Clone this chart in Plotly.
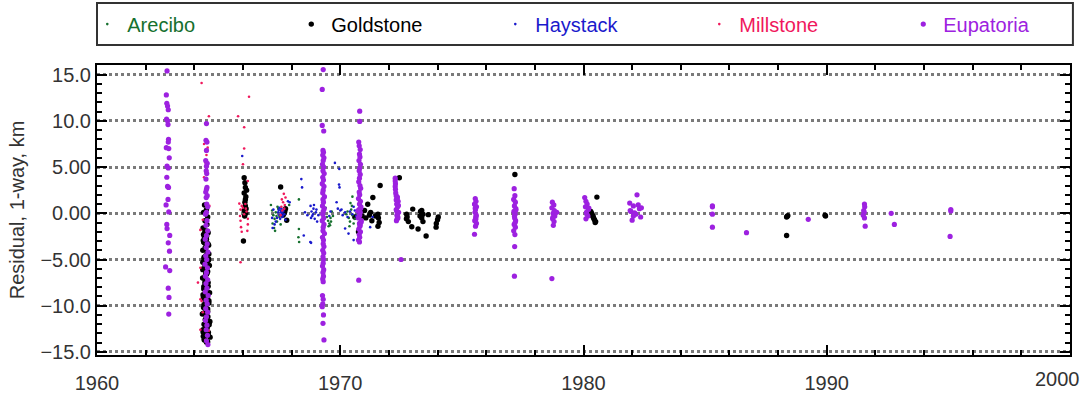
import plotly.graph_objects as go

# ---------------- data (year, residual km) ----------------
ARECIBO_X = [1967.15, 1967.2, 1967.25, 1967.3, 1967.22, 1967.28, 1967.32, 1967.4, 1967.45, 1967.5,
             1967.55, 1967.35, 1967.6, 1967.9, 1968.3, 1968.3, 1968.28, 1968.31, 1969.45, 1969.5,
             1969.55, 1969.6, 1969.62, 1969.65, 1969.7, 1969.4, 1969.52, 1970.3, 1970.35, 1970.4,
             1970.45, 1970.5, 1970.55, 1970.5, 1970.42, 1970.6, 1970.38, 1970.25, 1970.48, 1969.58,
             1967.38, 1967.42]
ARECIBO_Y = [0.9, 0.3, -0.2, -0.6, -1.1, -1.6, -1.9, -0.9, 0.5, -0.4,
             -1.2, 0.1, 0.2, 0.9, 1.5, -1.7, -2.6, -3.1, -0.4, -0.8,
             -1.1, -0.5, -0.9, 0.2, -0.3, 0.6, -1.4, 0.2, -0.5, -0.9,
             0.4, -0.2, -1.1, 1.8, 1.1, -0.6, -1.4, -0.1, 0.8, -1.3,
             -0.3, 0.7]

GOLDSTONE_X = [1964.42, 1964.5, 1964.38, 1964.55, 1964.44, 1964.52, 1964.36, 1964.48, 1964.57, 1964.41,
               1964.5, 1964.39, 1964.56, 1964.45, 1964.35, 1964.53, 1964.47, 1964.4, 1964.58, 1964.43,
               1964.51, 1964.37, 1964.55, 1964.46, 1964.34, 1964.52, 1964.44, 1964.57, 1964.39, 1964.49,
               1964.36, 1964.54, 1964.42, 1964.6, 1964.47, 1964.38, 1964.55, 1964.33, 1964.5, 1964.45,
               1964.62, 1964.4, 1964.53, 1964.36, 1964.58, 1964.46, 1964.65, 1964.41, 1964.55, 1964.38,
               1964.49, 1964.6, 1964.35, 1964.52, 1964.44, 1964.63, 1964.4, 1964.56, 1964.47, 1964.37,
               1964.43, 1964.51, 1964.37, 1964.59, 1964.46, 1964.54, 1964.4, 1964.48, 1964.62, 1964.35,
               1964.5, 1964.44, 1964.57, 1964.39, 1964.53, 1964.47, 1964.6, 1964.42, 1964.55, 1964.38,
               1964.49, 1964.64, 1964.45, 1964.52, 1964.36, 1964.58, 1964.41, 1964.5, 1964.61, 1964.44,
               1964.37, 1964.54, 1964.47, 1964.59, 1964.4, 1964.52,
               1966.05, 1966.08, 1966.1, 1966.05, 1966.12, 1966.08, 1966.1, 1966.05, 1966.12, 1966.02,
               1966.15, 1966.1, 1966.07, 1966.13,
               1967.55, 1967.75, 1967.8, 1967.7, 1967.65, 1967.72,
               1970.6, 1970.75, 1970.8, 1970.9, 1971.0, 1971.05, 1971.13, 1971.34, 1971.2, 1971.25,
               1971.3, 1971.55, 1971.57, 1971.6, 1971.55, 1971.64, 1971.45,
               1972.43, 1972.73, 1972.75, 1972.72, 1972.98, 1972.94, 1973.2, 1973.3, 1973.35, 1973.4,
               1973.35, 1973.4, 1973.62, 1973.53, 1974.03, 1974.0, 1973.95, 1973.94, 1973.28, 1972.8,
               1977.18,
               1980.3, 1980.35, 1980.4, 1980.45, 1980.5, 1980.38, 1980.42, 1980.48, 1980.55, 1980.33,
               1988.38, 1988.4, 1988.35, 1988.35, 1989.93, 1989.95]
GOLDSTONE_Y = [0.9, 0.4, 0.1, -0.4, -0.8, -1.2, -1.6, -1.9, -2.1, -2.5,
               -2.8, -3.1, -3.3, -3.7, -4.0, -4.2, -4.6, -4.9, -5.1, -5.5,
               -5.8, -6.0, -6.3, -6.7, -7.0, -7.2, -7.6, -7.9, -8.2, -8.4,
               -8.8, -9.1, -9.3, -9.7, -10.0, -10.2, -10.6, -10.9, -11.1, -11.5,
               -11.8, -12.0, -12.3, -12.6, -12.9, -13.1, -13.4, -13.7, -13.9, -2.3,
               -3.6, -4.4, -5.3, -6.5, -7.4, -8.6, -9.9, -11.2, -12.7, -13.3,
               -2.05, -2.45, -2.95, -3.45, -3.85, -4.3, -4.75, -5.2, -5.65, -6.1,
               -6.6, -7.05, -7.5, -7.95, -8.45, -8.95, -9.45, -9.85, -10.35, -10.8,
               -11.3, -11.7, -12.15, -12.45, -12.85, -13.25, -13.6, -13.95, -12.05, -10.75,
               -9.05, -7.85, -6.35, -4.95, -3.15, -13.0,
               3.85, 3.3, 2.8, 2.2, 1.8, 1.2, 0.8, 0.3, 0.0, -3.0,
               2.5, 1.5, -0.3, 0.5,
               2.85, 0.5, -0.76, 0.0, -0.2, 0.2,
               -0.4, -2.0, 0.2, -0.3, 0.3, -0.5, 0.97, 1.7, -0.2, 0.1,
               -0.8, -0.1, -0.5, -1.0, -1.4, 3.0, -0.3,
               3.85, -0.1, -0.4, -0.6, 0.45, -1.45, -1.7, 0.2, 0.3, -0.1,
               -0.5, -0.9, -0.15, -2.45, -0.4, -0.7, -1.1, -1.5, -0.3, -0.9,
               4.2,
               0.2, -0.1, -0.4, -0.7, -0.9, -0.3, -0.55, -1.0, 1.75, 0.0,
               -0.32, -0.25, -0.4, -2.4, -0.22, -0.3]

HAYSTACK_X = [1965.97, 1967.45, 1967.5, 1967.55, 1967.6, 1967.62, 1967.58, 1967.65, 1967.5, 1967.4,
              1967.7, 1967.68, 1967.53, 1967.47, 1967.63, 1967.57, 1967.2, 1967.25, 1967.3, 1967.22,
              1967.35, 1967.85, 1967.75, 1967.92, 1968.43, 1968.4, 1968.5, 1968.77, 1968.78, 1968.82,
              1968.85, 1968.9, 1968.95, 1969.0, 1969.05, 1968.8, 1968.88, 1969.02, 1968.92, 1969.1,
              1968.8, 1969.55, 1969.6, 1969.78, 1969.96, 1969.95, 1969.97, 1969.85, 1969.9, 1970.0,
              1970.1, 1970.05, 1970.2, 1970.3, 1970.34, 1970.55, 1970.2, 1970.4, 1970.5, 1970.6,
              1970.65, 1970.7, 1970.55, 1971.23, 1971.33, 1968.55, 1968.65]
HAYSTACK_Y = [6.2, 0.1, -0.2, 0.3, 0.0, -0.4, 0.5, 0.2, 0.6, -0.5,
              -0.1, 0.4, -0.6, 0.35, -0.25, 0.15, -0.5, 0.4, -1.2, -1.6,
              -0.9, 1.3, -0.7, 1.2, 2.8, 3.7, -2.4, -3.1, 0.8, 0.2,
              -0.3, 0.5, -0.6, 0.1, -0.9, -0.5, -0.1, 0.4, 0.9, -0.2,
              -3.2, -0.3, 0.2, 5.45, 4.8, 3.1, 2.8, 1.2, 0.5, 0.3,
              -0.2, 0.4, 0.1, -0.4, -2.2, -2.9, -1.65, 0.2, -0.1, 0.3,
              -0.3, 0.1, 0.7, -1.5, -0.4, 0.1, -0.2]

MILLSTONE_X = [1964.3, 1964.6, 1964.4, 1964.55, 1964.5, 1964.45, 1964.52, 1964.4, 1964.5, 1964.45,
               1964.62, 1964.35, 1964.25, 1964.25, 1964.15, 1964.25, 1964.3, 1964.25, 1964.6, 1964.45,
               1964.35, 1964.55,
               1965.8, 1966.05, 1966.25, 1966.05, 1966.0, 1966.2, 1965.85, 1965.9, 1965.95, 1966.0,
               1966.1, 1966.15, 1965.88, 1966.2, 1965.9, 1966.2, 1965.92, 1966.18, 1965.95, 1965.9,
               1966.05, 1966.12,
               1967.68, 1967.6, 1967.65, 1967.72, 1967.58, 1967.7, 1967.62, 1967.75, 1967.55]
MILLSTONE_Y = [14.1, 10.5, 7.5, 7.1, 6.3, 5.5, 4.6, 3.9, 2.2, 1.7,
               0.8, -0.7, -1.8, -5.9, -7.5, -9.3, -9.5, -12.6, -12.7, -13.7,
               -10.7, -3.4,
               10.5, 9.3, 12.6, 7.0, 5.3, 3.5, 1.05, 0.4, 0.8, 0.6,
               1.0, 0.2, -0.3, -0.6, -0.8, -1.2, -1.5, -1.9, -2.0, -5.3,
               -0.1, 0.5,
               2.1, 1.5, 1.2, 0.9, 0.7, 0.5, 0.3, 1.7, -0.2]

EUPATORIA_X = [1962.88, 1962.85, 1962.87, 1962.9, 1962.93, 1962.86, 1962.9, 1962.92, 1962.94, 1962.93,
               1962.85, 1962.95, 1962.97, 1962.88, 1962.93, 1962.87, 1962.9, 1962.94, 1962.92, 1962.84,
               1962.95, 1962.87, 1962.88, 1962.99, 1962.93, 1962.98, 1962.82, 1962.99, 1962.93, 1962.96,
               1962.95,
               1964.5, 1964.48, 1964.52, 1964.5, 1964.47, 1964.53, 1964.5, 1964.49, 1964.51, 1964.48,
               1964.52, 1964.5, 1964.47, 1964.53, 1964.49, 1964.51, 1964.55, 1964.5, 1964.46, 1964.52,
               1964.48, 1964.55, 1964.5, 1964.45, 1964.53, 1964.49, 1964.56, 1964.47, 1964.51, 1964.44,
               1964.54, 1964.5, 1964.46, 1964.55, 1964.48, 1964.52, 1964.45, 1964.57, 1964.49, 1964.53,
               1964.47, 1964.55, 1964.5, 1964.46, 1964.52, 1964.49, 1964.54, 1964.5, 1964.56,
               1969.3, 1969.26, 1969.26, 1969.32, 1969.29, 1969.31, 1969.28, 1969.33, 1969.3, 1969.27,
               1969.32, 1969.29, 1969.34, 1969.28, 1969.31, 1969.26, 1969.33, 1969.3, 1969.28, 1969.35,
               1969.29, 1969.31, 1969.27, 1969.34, 1969.3, 1969.28, 1969.32, 1969.26, 1969.33, 1969.3,
               1969.29, 1969.35, 1969.27, 1969.31, 1969.3, 1969.33, 1969.28, 1969.32, 1969.29, 1969.31,
               1969.3, 1969.27, 1969.32, 1969.29, 1969.31, 1969.28, 1969.3, 1969.27, 1969.3, 1969.28,
               1969.26, 1969.31, 1969.29, 1969.33,
               1970.8, 1970.8, 1970.76, 1970.78, 1970.82, 1970.79, 1970.81, 1970.77, 1970.83, 1970.8,
               1970.78, 1970.82, 1970.79, 1970.76, 1970.81, 1970.84, 1970.78, 1970.8, 1970.75, 1970.83,
               1970.79, 1970.85, 1970.77, 1970.82, 1970.8, 1970.74, 1970.86, 1970.79, 1970.81, 1970.76,
               1970.83, 1970.78, 1970.8, 1970.75, 1970.84, 1970.77, 1970.82, 1970.73, 1970.86, 1970.79,
               1970.76,
               1972.26, 1972.26, 1972.27, 1972.26, 1972.27, 1972.28, 1972.3, 1972.34, 1972.38, 1972.32,
               1972.36, 1972.3, 1972.4, 1972.33, 1972.37, 1972.31, 1972.35, 1972.39, 1972.32, 1972.36,
               1972.3, 1972.34, 1972.5,
               1975.55, 1975.58, 1975.52, 1975.6, 1975.56, 1975.54, 1975.59, 1975.57, 1975.53, 1975.6,
               1975.56, 1975.55, 1975.58, 1975.54, 1975.57, 1975.52,
               1977.15, 1977.18, 1977.13, 1977.2, 1977.16, 1977.22, 1977.14, 1977.19, 1977.17, 1977.21,
               1977.15, 1977.2, 1977.13, 1977.18, 1977.22, 1977.16, 1977.19, 1977.17, 1977.16,
               1978.72, 1978.78, 1978.7, 1978.8, 1978.75, 1978.82, 1978.73, 1978.79, 1978.76, 1978.9,
               1978.74, 1978.7,
               1980.05, 1980.1, 1980.15, 1980.08, 1980.2, 1980.12, 1980.18, 1980.1, 1980.22, 1980.14,
               1982.2, 1981.9, 1982.05, 1982.3, 1981.95, 1982.15, 1982.35, 1982.0, 1982.25, 1981.92,
               1982.1, 1982.38, 1982.05,
               1985.3, 1985.3, 1985.3, 1985.3, 1986.7, 1989.24, 1991.55, 1991.56, 1991.52, 1991.5,
               1991.55, 1991.58, 1991.54, 1992.65, 1992.78, 1995.1, 1995.1, 1995.07]
EUPATORIA_Y = [15.4, 12.8, 11.9, 11.6, 11.2, 10.2, 10.0, 9.6, 8.0, 7.7,
               7.1, 7.0, 6.0, 5.1, 4.9, 3.9, 2.9, 2.8, 1.5, 0.9,
               0.15, -1.2, -1.65, -2.4, -3.2, -4.1, -5.8, -6.2, -8.1, -9.1,
               -10.9,
               9.7, 7.9, 7.7, 6.8, 5.7, 5.4, 5.1, 4.6, 4.3, 3.7,
               2.8, 2.6, 2.3, 1.9, 1.7, 1.0, 0.7, 0.1, -0.1, -0.8,
               -1.3, -1.9, -2.4, -2.8, -3.3, -3.7, -4.2, -4.6, -5.0, -5.5,
               -5.9, -6.4, -6.8, -7.2, -7.6, -8.1, -8.5, -8.9, -9.4, -9.8,
               -10.3, -10.7, -11.2, -11.6, -12.1, -12.6, -13.2, -13.8, -14.2,
               15.55, 13.4, 9.5, 8.9, 6.8, 6.6, 6.3, 6.0, 5.7, 5.3,
               5.0, 4.6, 4.3, 3.9, 3.6, 3.2, 2.9, 2.5, 2.2, 1.8,
               1.5, 1.2, 0.8, 0.5, 0.2, -0.1, -0.5, -0.8, -1.2, -1.5,
               -1.9, -2.2, -2.6, -2.9, -3.3, -3.6, -4.0, -4.3, -4.7, -5.0,
               -5.4, -5.7, -6.1, -6.4, -6.8, -7.1, -7.4, -8.9, -9.3, -9.8,
               -10.1, -11.0, -11.9, -13.7,
               11.05, 9.94, 7.7, 7.3, 6.9, 6.4, 6.1, 5.7, 5.3, 4.9,
               4.6, 4.2, 3.8, 3.4, 3.0, 2.7, 2.3, 2.0, 1.6, 1.3,
               1.0, 0.7, 0.4, 0.1, -0.2, -0.5, -0.8, -1.1, -1.4, -1.7,
               -2.0, -2.3, -2.6, -2.9, 0.55, -0.35, -1.25, 0.25, -0.95, -3.1,
               -7.24,
               3.8, 3.5, 3.2, 2.9, 2.6, 2.2, 1.9, 1.6, 1.3, 1.0,
               0.7, 0.4, 0.1, -0.2, -0.5, -0.8, 1.75, 0.85, 0.25, -0.35,
               1.45, -0.6, -5.0,
               1.6, 1.3, 1.0, 0.7, 0.4, 0.1, -0.2, -0.5, -0.8, -1.1,
               -1.4, 0.55, -0.35, 0.95, -0.65, -2.27,
               2.66, 1.9, 1.5, 1.2, 0.8, 0.5, 0.2, -0.1, -0.5, -0.8,
               -1.2, -1.5, -1.9, -2.3, 0.35, -0.3, -1.0, -3.6, -6.8,
               1.2, 0.9, 0.6, 0.3, 0.0, -0.3, -0.6, -0.9, -1.3, 0.1,
               -0.45, -7.06,
               1.7, 1.3, 1.0, 0.7, 0.4, 0.1, -0.3, -0.6, 0.55, -0.1,
               2.0, 1.1, 0.8, 0.5, 0.2, -0.1, -0.4, -0.75, 0.9, 0.3,
               0.05, 0.6, -0.3,
               0.8, 0.7, -0.1, -1.5, -2.1, -0.65, 1.0, 0.7, 0.3, -0.2,
               -0.5, -1.4, 0.1, 0.0, -1.2, 0.4, 0.25, -2.5]

X_RANGE = [1960, 2000]
Y_RANGE = [-15.33, 16.04]
LAST_X_LABEL = 2000

COL_ARE = "#16702e"
COL_GOLD = "#000000"
COL_HAY = "#1a1acc"
COL_MILL = "#f0185c"
COL_EUP = "#9d21e0"
TXT = "#333333"

FONT = "Liberation Sans, Arial, Helvetica, sans-serif"
FS = 20

fig = go.Figure()

series = [
    ("Goldstone", GOLDSTONE_X, GOLDSTONE_Y, COL_GOLD, 5.4, 2),
    ("Arecibo", ARECIBO_X, ARECIBO_Y, COL_ARE, 2.6, 1),
    ("Haystack", HAYSTACK_X, HAYSTACK_Y, COL_HAY, 2.6, 3),
    ("Millstone", MILLSTONE_X, MILLSTONE_Y, COL_MILL, 2.6, 4),
    ("Eupatoria", EUPATORIA_X, EUPATORIA_Y, COL_EUP, 5.2, 5),
]
for name, xs, ys, col, size, rank in series:
    fig.add_trace(go.Scatter(
        x=xs, y=ys, mode="markers",
        name='<span style="color:%s">%s</span>' % (col, name),
        legendrank=rank,
        marker=dict(color=col, size=size, line=dict(width=0)),
    ))

# legend frame
fig.add_shape(type="rect", xref="paper", yref="paper",
              x0=0.0, x1=1.003, y0=1.069, y1=1.2138,
              line=dict(color="#333333", width=2), fillcolor="rgba(0,0,0,0)")

# right-most x label, pulled inside the page like in the original
fig.add_annotation(x=LAST_X_LABEL, xref="x", y=0, yref="paper",
                   text=str(LAST_X_LABEL), showarrow=False,
                   xanchor="right", yanchor="top", xshift=12, yshift=-11,
                   font=dict(family=FONT, size=FS, color=TXT))

fig.update_layout(
    width=1087, height=395,
    margin=dict(l=97, r=17, t=65, b=40, autoexpand=False),
    paper_bgcolor="white", plot_bgcolor="white",
    font=dict(family=FONT, size=FS, color=TXT),
    showlegend=True,
    legend=dict(orientation="h", x=-0.01, xanchor="left", y=1.141, yanchor="middle",
                entrywidth=159, entrywidthmode="pixels", bgcolor="rgba(0,0,0,0)",
                borderwidth=0, font=dict(size=FS), itemsizing="trace"),
)

fig.update_xaxes(
    range=X_RANGE, tick0=1960, dtick=10, showgrid=False, zeroline=False,
    showline=True, linecolor="black", linewidth=2, mirror="allticks",
    ticks="inside", ticklen=10, tickwidth=2, tickcolor="black",
    tickfont=dict(size=FS, color=TXT), ticklabelstandoff=9,
    minor=dict(dtick=2, tick0=1960, ticks="inside", ticklen=5, tickwidth=1.5, tickcolor="black", showgrid=False),
)
fig.update_yaxes(
    range=Y_RANGE, tick0=0, dtick=5, tickformat=".3r",
    showgrid=True, gridcolor="#7a7a7a", griddash="dot", gridwidth=2.5, zeroline=False,
    showline=True, linecolor="black", linewidth=2, mirror="allticks",
    ticks="inside", ticklen=10, tickwidth=2, tickcolor="black",
    tickfont=dict(size=FS, color=TXT),
    title=dict(text="Residual, 1-way, km", font=dict(size=FS, color=TXT), standoff=10),
    minor=dict(dtick=1, tick0=0, ticks="inside", ticklen=5, tickwidth=1.5, tickcolor="black", showgrid=False),
)

fig.write_html("out.html")
